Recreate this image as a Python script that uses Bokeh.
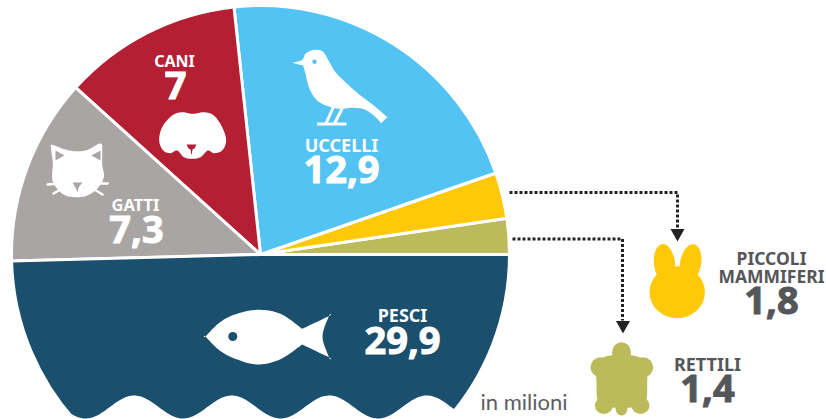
import numpy as np
from bokeh.plotting import figure
from bokeh.models import Range1d
from bokeh.core.properties import value
from bokeh.embed import file_html
from bokeh.resources import INLINE

# data (millions), counter-clockwise from the horizontal on the right
categories = ["RETTILI", "PICCOLI MAMMIFERI", "UCCELLI", "CANI", "GATTI", "PESCI"]
values = [1.4, 1.8, 12.9, 7.0, 7.3, 29.9]
value_labels = ["1,4", "1,8", "12,9", "7", "7,3", "29,9"]
colors = ["#bcbb5b", "#ffc808", "#52c3f3", "#b51f33", "#a9a5a4", "#1a506e"]

W, H = 826, 419
CX, CY, R = 260, 254, 249
NAVY, BLUE, RED, GREY, GOLD, OLIVE = colors[5], colors[2], colors[3], colors[4], colors[1], colors[0]
DARK = "#55565a"

p = figure(width=W, height=H, x_range=Range1d(0, W), y_range=Range1d(0, H),
           output_backend="svg", toolbar_location=None, min_border=0,
           background_fill_color="white", border_fill_color="white")
p.axis.visible = False
p.grid.visible = False
p.outline_line_color = None


def Y(v):
    return H - np.asarray(v, dtype=float)


def smooth(pts, n=10):
    """Closed Catmull-Rom outline through pixel points; a repeated point gives a corner."""
    P = np.asarray(pts, dtype=float)
    out = []
    m = len(P)
    for i in range(m):
        p0, p1, p2, p3 = P[i - 1], P[i], P[(i + 1) % m], P[(i + 2) % m]
        for t in np.linspace(0, 1, n, endpoint=False):
            out.append(0.5 * (2 * p1 + (p2 - p0) * t + (2 * p0 - 5 * p1 + 4 * p2 - p3) * t ** 2
                              + (3 * p1 - p0 - 3 * p2 + p3) * t ** 3))
    return np.array(out)


def blob(pts, color, ox=0, oy=0, k=1 / 3):
    o = smooth(pts)
    p.patch(ox + o[:, 0] * k, Y(oy + o[:, 1] * k), fill_color=color, line_color=None)


def dot(x, y, rx, ry, color, angle=0):
    p.ellipse(x, H - y, width=2 * rx, height=2 * ry, angle=angle, fill_color=color, line_color=None)


def label(x, y, t, size, color="white", heavy=False):
    p.text([x], [H - y], text=[t], text_font=value("Noto Sans"), text_font_style="bold",
           text_font_size=f"{size}px", text_color=color, text_align="center", text_baseline="middle",
           text_outline_color=color if heavy else None)


# pie
total = sum(values)
ang = np.cumsum([0] + values) / total * 2 * np.pi
p.wedge([CX] * 6, [H - CY] * 6, radius=R, start_angle=ang[:-1], end_angle=ang[1:],
        fill_color=colors, line_color="white", line_width=3)

# wavy cut at the bottom of the pie
wx = np.linspace(40, 470, 300)
wy = 406.5 + 11.5 * np.cos(2 * np.pi * (wx - 85) / 97.5)
p.patch(np.r_[wx, 470, 40], Y(np.r_[wy, 425, 425]), fill_color="white", line_color=None)

# fish
fish = [(615, 258), (615, 258), (655, 218), (700, 193), (770, 178), (840, 190), (905, 235), (905, 235),
        (985, 197), (985, 197), (966, 258), (985, 320), (985, 320), (905, 282), (905, 282),
        (840, 326), (770, 342), (700, 323), (655, 298)]
blob(fish, "white", 0, 250)
dot(232.3, 336, 4.5, 4.5, NAVY)

# bird
bird = [(95, 127), (95, 127), (125, 118), (135, 100), (160, 88), (187, 93), (203, 118), (225, 155), (260, 190), (300, 225),
        (340, 255), (380, 290), (380, 290), (362, 308), (362, 308), (340, 285), (310, 266), (275, 262), (240, 265),
        (205, 258), (170, 240), (147, 205), (135, 160), (128, 135), (128, 135)]
blob(bird, "white", 260, 20)
dot(314, 61.3, 2.2, 2.2, BLUE)
for xs, ys in [([332.7, 325.5], [107, 123]), ([341.7, 334], [108, 123]), ([316.7, 346], [123.5, 123.5])]:
    p.line(xs, Y(ys), line_color="white", line_width=3)

# dog
dog = [(476, 420), (485, 380), (515, 345), (545, 335), (577, 340), (610, 335), (640, 345), (665, 380), (677, 420),
       (665, 450), (640, 458), (622, 450), (600, 470), (575, 475), (550, 470), (530, 450), (510, 458), (488, 450)]
blob(dog, "white")
p.patch(np.array([186, 196, 194, 192, 191, 190, 188]), Y([144, 144, 148, 149, 155, 149, 148]), fill_color=RED, line_color=None)

# cat
cat = [(152, 445), (155, 433), (205, 450), (255, 450), (295, 430), (305, 437), (305, 490), (310, 530), (290, 565), (260, 585),
       (230, 590), (195, 585), (170, 565), (155, 535), (157, 490)]
blob(cat, "white")
for tri in [([55, 64, 55], [150, 155, 160]), ([100, 91, 100], [150, 155, 160])]:
    p.patch(np.array(tri[0]), Y(tri[1]), fill_color=GREY, line_color=None)
p.patch(np.array([72, 82, 78, 77, 75]), Y([182, 182, 187, 192, 187]), fill_color=GREY, line_color=None)
for xs, ys in [([47, 58], [184, 183]), ([53, 60], [193, 189]), ([107, 95], [183, 183]), ([102, 94], [194, 189])]:
    p.line(xs, Y(ys), line_color="white", line_width=2.5, line_cap="round")

# bunny
dot(676.7, 291.7, 27.7, 26, GOLD)
dot(664, 263, 10.5, 19.5, GOLD, angle=0.12)
dot(690, 263, 10.5, 19.5, GOLD, angle=-0.18)

# turtle
turtle = [(295, 570), (363, 552), (432, 570), (440, 640), (430, 700), (363, 712), (298, 700), (288, 640)]
blob(turtle, OLIVE, 500, 170)
dot(621, 351.7, 9.5, 10, OLIVE)
dot(600, 366.7, 10, 10, OLIVE)
dot(642.7, 366.7, 10, 10, OLIVE)
dot(603.3, 405, 9, 8.5, OLIVE)
dot(640, 405, 9, 8.5, OLIVE)
dot(621, 408, 6, 7, OLIVE)

# connectors
p.line([509, 677, 677], Y([192, 192, 228]), line_color="#222222", line_width=3, line_dash="3 2")
p.patch(np.array([670, 684, 677]), Y([228.5, 228.5, 241]), fill_color="#222222", line_color=None)
p.line([512, 622, 622], Y([238.5, 238.5, 320]), line_color="#222222", line_width=3, line_dash="3 2")
p.patch(np.array([615.5, 629.5, 622.5]), Y([320.5, 320.5, 333]), fill_color="#222222", line_color=None)

# labels
label(174, 60, categories[3], 16)
label(175, 85, value_labels[3], 38, heavy=True)
label(135, 204, categories[4], 16.5)
label(136, 229, value_labels[4], 38, heavy=True)
label(341, 144, categories[2], 18)
label(341, 169, value_labels[2], 38, heavy=True)
label(402, 314, categories[5], 18)
label(402, 340, value_labels[5], 38, heavy=True)
label(771, 257, "PICCOLI", 17.5, DARK)
label(771, 275, "MAMMIFERI", 17.5, DARK)
label(771, 300, value_labels[1], 38, DARK, heavy=True)
label(707, 363, categories[0], 18, DARK)
label(707, 388, value_labels[0], 38, DARK, heavy=True)
p.text([480], [H - 401], text=["in milioni"], text_font=value("Lato"), text_font_size="22px",
       text_color="#5c5d61", text_align="left", text_baseline="middle")

open("out.html", "w").write(file_html(p, INLINE))
